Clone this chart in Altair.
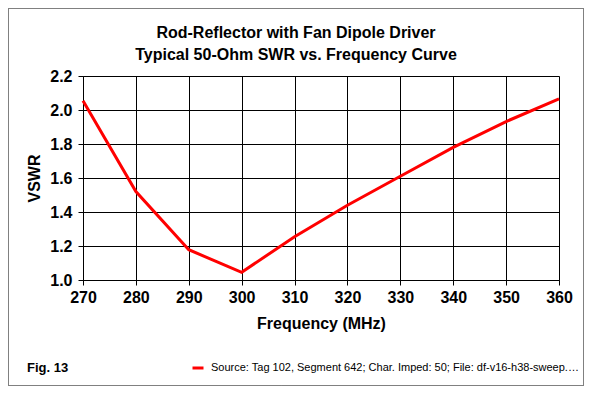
import altair as alt
import pandas as pd

freq = [270, 280, 290, 300, 310, 320, 330, 340, 350, 360]
vswr = [2.055, 1.52, 1.178, 1.045, 1.255, 1.44, 1.61, 1.78, 1.932, 2.065]
series = "Source: Tag 102, Segment 642; Char. Imped: 50; File: df-v16-h38-sweep.nec"
x_ticks = [270, 280, 290, 300, 310, 320, 330, 340, 350, 360]
y_ticks = [1.0, 1.2, 1.4, 1.6, 1.8, 2.0, 2.2]
title_lines = ["Rod-Reflector with Fan Dipole Driver", "Typical 50-Ohm SWR vs. Frequency Curve"]
fig_label = "Fig. 13"

FONT = "Liberation Sans"

df = pd.DataFrame({"freq": freq, "vswr": vswr, "series": [series] * len(freq)})
one = pd.DataFrame({"k": [0]})

line = alt.Chart(df).mark_line(strokeWidth=3).encode(
    x=alt.X("freq:Q", scale=alt.Scale(domain=[270, 360], nice=False, zero=False),
            axis=alt.Axis(values=x_ticks, title="Frequency (MHz)", format="d",
                          labelFont=FONT, labelFontSize=16, labelFontWeight="bold",
                          labelColor="black", labelPadding=4, labelFlush=False,
                          labelOverlap=False,
                          titleFont=FONT, titleFontSize=16, titleFontWeight="bold",
                          titleColor="black", titlePadding=10,
                          grid=True, gridColor="black", gridOpacity=1, gridWidth=1,
                          domainColor="black", tickColor="black", tickSize=5)),
    y=alt.Y("vswr:Q", scale=alt.Scale(domain=[1.0, 2.2], nice=False, zero=False),
            axis=alt.Axis(values=y_ticks, title="VSWR", format=".1f",
                          labelFont=FONT, labelFontSize=16, labelFontWeight="bold",
                          labelColor="black", labelPadding=6, labelFlush=False,
                          labelOverlap=False,
                          titleFont=FONT, titleFontSize=16, titleFontWeight="bold",
                          titleColor="black", titlePadding=7,
                          grid=True, gridColor="black", gridOpacity=1, gridWidth=1,
                          domainColor="black", tickColor="black", tickSize=5)),
    color=alt.Color("series:N", scale=alt.Scale(range=["#ff0000"]),
                    legend=alt.Legend(orient="none", legendX=108, legendY=285,
                                      direction="horizontal", title=None, padding=0,
                                      symbolType="stroke", symbolSize=121,
                                      symbolStrokeWidth=3, symbolStrokeColor="#ff0000",
                                      labelFont=FONT, labelFontSize=11, labelColor="black",
                                      labelOffset=6, labelLimit=372)),
)

titles = pd.DataFrame({"t": title_lines, "row": [0, 1]})
title1 = alt.Chart(pd.DataFrame({"t": [title_lines[0]]})).mark_text(
    font=FONT, fontSize=16, fontWeight="bold", align="center", baseline="middle",
    color="black").encode(x=alt.value(213), y=alt.value(-43), text="t:N")
title2 = alt.Chart(pd.DataFrame({"t": [title_lines[1]]})).mark_text(
    font=FONT, fontSize=16, fontWeight="bold", align="center", baseline="middle",
    color="black").encode(x=alt.value(213), y=alt.value(-21), text="t:N")

fig = alt.Chart(pd.DataFrame({"t": [fig_label]})).mark_text(
    font=FONT, fontSize=13, fontWeight="bold", align="left",
    baseline="middle", color="black").encode(
    x=alt.value(-56), y=alt.value(292), text="t:N")

border = alt.Chart(one).mark_rect(fill=None, stroke="black", strokeWidth=1,
                                  strokeDash=[1, 1]).encode(
    x=alt.value(-74.5), x2=alt.value(500.5), y=alt.value(-67.5), y2=alt.value(309.5))

chart = alt.layer(line, title1, title2, fig, border).properties(
    width=476, height=204,
    autosize=alt.AutoSizeParams(type="none"),
    padding={"left": 75, "top": 68, "right": 25, "bottom": 106},
).configure_view(stroke="black", strokeWidth=1).configure(background="white")

chart.save("out.html", embed_options={"renderer": "svg", "actions": False})
